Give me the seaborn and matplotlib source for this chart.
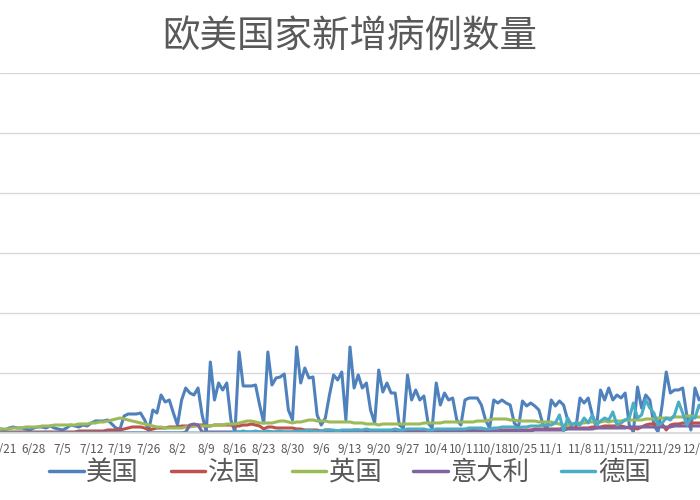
import matplotlib
matplotlib.use("Agg")
import matplotlib.pyplot as plt
import seaborn as sns
import pandas as pd
import numpy as np

sns.set_theme(style="white")
plt.rcParams['font.family'] = ['Noto Sans CJK SC', 'DejaVu Sans']

# daily dates 6/19 .. 12/8
dates = pd.date_range("2020-06-19", "2020-12-08", freq="D")
tick_labels = ["6/21","6/28","7/5","7/12","7/19","7/26","8/2","8/9","8/16","8/23","8/30",
               "9/6","9/13","9/20","9/27","10/4","10/11","10/18","10/25","11/1","11/8",
               "11/15","11/22","11/29","12/6"]

us = [3,4,
 3,5,6,5,5,4,3, 5,6,6,5,7,5,4, 3,5,8,7,6,8,7, 10,12,12,12,13,9,5,
 4,17,19,19,19,20,13, 3,23,20,38,31,33,20, 8,33,45,40,38,45,18, 1,71,33,50,43,50,13,
 1,81,47,47,47,48,28, 10,81,48,55,56,59,23, 13,86,50,65,55,56,18, 8,15,38,58,53,61,13,
 86,45,58,45,50,23,10, 63,41,50,40,40,8,5, 58,33,43,33,37,10,5, 50,28,40,33,35,13,8,
 33,35,35,35,28,13,5, 33,30,33,30,28,10,5, 32,27,30,27,23,8,5, 33,27,32,28,13,5,5,
 35,30,35,18,5,43,33, 45,33,38,35,40,8,1, 46,25,38,33,8,1,28, 61,40,43,43,45,18,3,
 45,33,38]
fr = [1,1,
 1,1,1,1,1,1,1, 1,1,1,1,1,1,1, 1,1,1,1,2,2,2, 2,2,2,2,3,3,3,
 3,4,5,6,6,6,5, 3,4,5,5,5,6,6, 6,7,7,7,7,8,8, 7,7,8,8,8,8,8,
 7,7,8,8,9,8,7, 4,6,6,5,5,5,5, 5,4,4,3,3,3,3, 2,3,3,2,2,2,2,
 2,3,3,2,2,2,2, 2,2,2,2,2,2,2, 2,2,2,2,2,2,2, 2,2,2,2,2,2,2,
 2,2,3,2,2,2,2, 2,2,3,3,3,3,3, 3,3,3,4,4,4,4, 4,4,4,5,5,5,5,
 5,5,5,6,6,6,7, 7,7,7,7,6,5,5, 4,6,8,9,9,9,9, 3,8,9,9,10,10,10,
 10,10,10]
uk = [4,4,
 4,4,5,5,5,6,6, 6,6,7,7,7,8,8, 8,8,8,8,9,9,9, 10,10,11,11,12,13,14,
 15,14,13,12,11,10,9, 8,7,6,6,5,5,5, 5,5,6,6,7,7,7, 7,7,8,8,8,9,9,
 9,10,11,12,12,11,10, 10,10,10,11,12,12,11, 10,11,11,12,13,13,12, 12,12,11,11,11,11,11,
 11,10,10,10,9,9,9, 8,9,9,9,9,9,9, 9,9,9,9,10,10,10, 10,10,11,11,11,11,11,
 11,11,11,12,12,12,13, 14,14,14,14,13,13,12, 12,12,12,12,11,11,11, 11,10,9,8,8,9,10,
 10,10,11,11,11,11,12, 11,12,12,12,13,13,13, 13,13,14,14,14,15,15, 15,15,16,16,16,17,17,
 16,16,16]
it = [0,0,
 0,0,0,0,0,0,0, 0,0,0,0,0,0,0, 0,0,0,0,0,0,0, 0,0,0,0,0,0,0,
 0,0,0,0,0,0,0, 0,0,0,0,0,0,0, 0,0,1,8,9,8,1, 1,1,1,1,1,1,1,
 1,1,1,1,1,1,1, 1,1,1,1,1,1,1, 1,1,1,1,1,1,1, 1,1,1,1,1,1,1,
 1,1,1,1,1,1,1, 1,1,1,1,1,1,1, 1,1,1,1,1,1,1, 2,2,2,2,2,2,2,
 2,2,2,2,2,2,2, 2,2,2,2,2,2,2, 2,2,2,3,3,3,3, 3,3,3,3,4,4,4,
 4,4,4,4,5,5,5, 5,5,5,5,5,6,6, 6,6,6,6,6,6,6, 6,6,7,7,7,7,7,
 7,7,7]
de = [0,0,
 0,0,0,0,0,0,0, 0,0,0,0,0,0,0, 0,0,0,0,0,0,0, 0,0,0,0,0,0,0,
 0,0,0,0,0,0,0, 0,0,0,0,0,0,0, 0,0,0,0,0,0,0, 0,0,0,0,0,0,0,
 1,1,2,1,1,2,1, 1,2,1,1,2,1,1, 1,2,2,2,3,2,2, 2,3,3,3,2,3,3,
 3,3,3,3,4,3,3, 3,3,3,3,4,3,3, 4,4,4,4,4,3,3, 4,4,4,4,4,4,4,
 4,5,5,5,5,4,4, 5,5,6,6,6,6,5, 6,6,7,7,7,8,8, 8,10,18,2,15,8,10,
 8,15,10,18,8,12,15, 13,21,8,10,13,15,30, 15,18,33,25,20,8,10, 15,13,18,31,20,8,15,
 15,28,22]

names = ["美国", "法国", "英国", "意大利", "德国"]
colors = ["#4f81bd", "#c0504d", "#9bbb59", "#8064a2", "#4bacc6"]
series = [us, fr, uk, it, de]

idx = np.arange(len(dates))
df = pd.concat([pd.DataFrame({"day": idx, "value": s, "country": n})
                for s, n in zip(series, names)], ignore_index=True)

fig = plt.figure(figsize=(7, 5), dpi=100)
ax = fig.add_axes([0, 0.134, 1, 0.72])
sns.lineplot(data=df, x="day", y="value", hue="country", palette=colors,
             hue_order=names, linewidth=2.2, ax=ax, legend=False)

ax.set_xlim(0.783, 171.22)
ax.set_ylim(0, 360)
ax.set_yticks(np.arange(0, 361, 60))
ax.set_yticklabels([])
ax.tick_params(axis='y', length=0)
ax.grid(axis='y', color='#d9d9d9', linewidth=1)
for s in ["top", "right", "left"]:
    ax.spines[s].set_visible(False)
ax.spines["bottom"].set_color("#d9d9d9")
ticks = [dates.get_loc(pd.Timestamp("2020/" + t)) for t in tick_labels]
ax.set_xticks(ticks)
ax.set_xticklabels(tick_labels, fontsize=8.5, color="#595959")
ax.tick_params(axis='x', length=4, color="#d9d9d9", pad=3)
ax.set_xlabel("")
ax.set_ylabel("")

fig.text(0.5, 0.925, "欧美国家新增病例数量", ha="center", va="center",
         fontsize=27, color="#595959")

from matplotlib.lines import Line2D
handles = [Line2D([], [], color=c, linewidth=2.5) for c in colors]
fig.legend(handles, names, loc="center", bbox_to_anchor=(0.5, 0.055), ncol=5,
           frameon=False, fontsize=19, labelcolor="#595959", handlelength=1.3,
           handletextpad=0.1, columnspacing=1.2)

fig.savefig("out.png", dpi=100)
